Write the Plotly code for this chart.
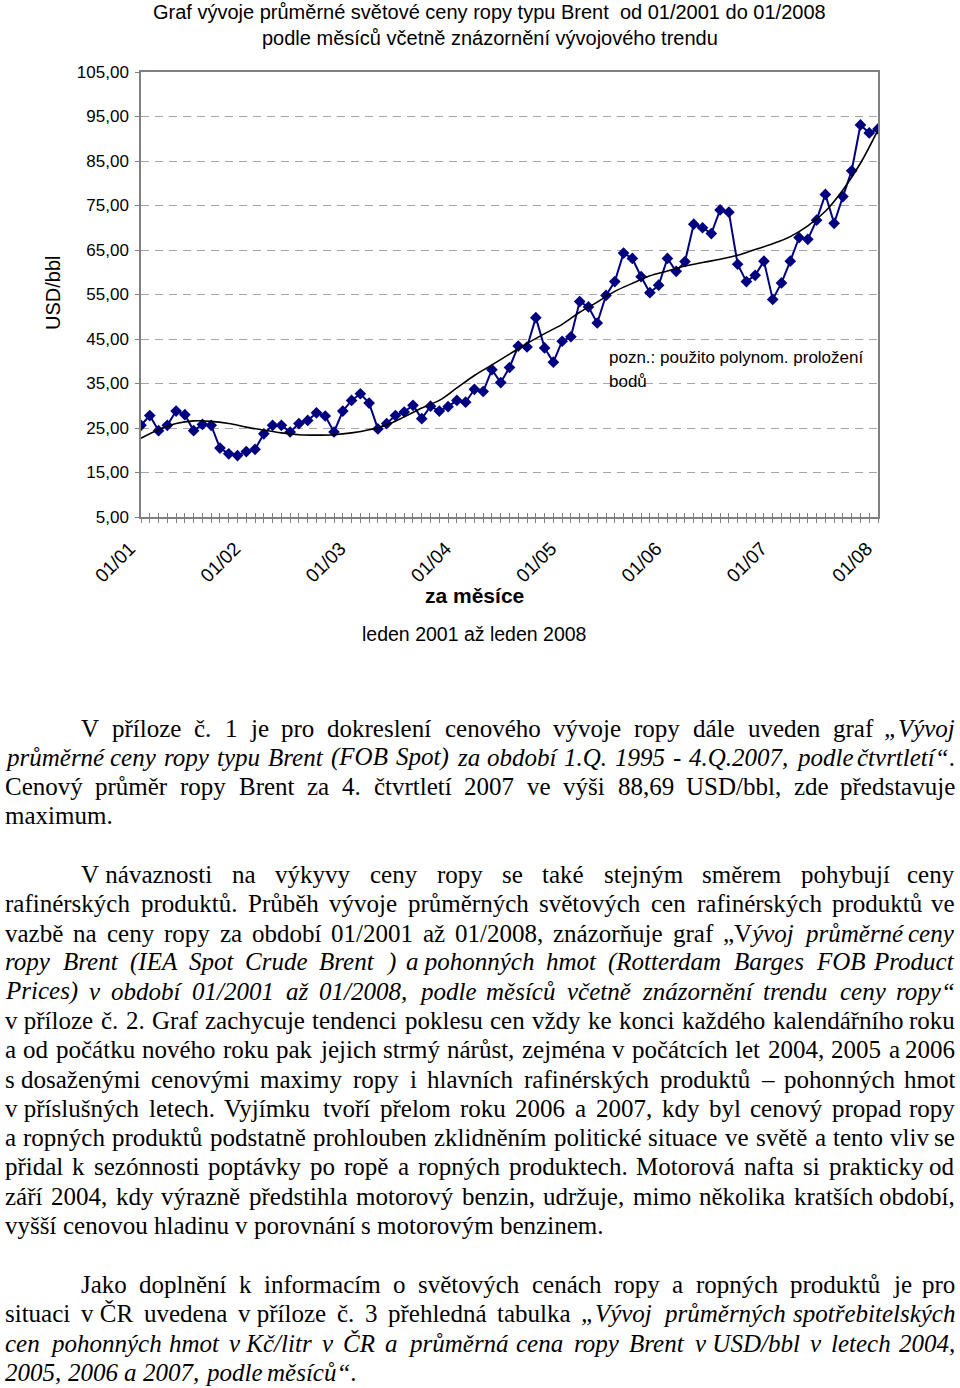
import unicodedata
import plotly.graph_objects as go

# ---------------- data ----------------
months = list(range(85))  # 01/2001 .. 01/2008
brent = [25.6, 27.8, 24.4, 25.6, 28.8, 28.0, 24.4, 25.8, 25.6, 20.5, 19.2, 18.8,
         19.7, 20.2, 23.7, 25.6, 25.6, 24.1, 26.0, 26.7, 28.4, 27.7, 24.1, 28.8,
         31.2, 32.7, 30.6, 24.8, 26.0, 27.8, 28.6, 30.1, 27.1, 29.9, 28.8, 29.8,
         31.2, 30.8, 33.7, 33.2, 38.1, 35.2, 38.6, 43.4, 43.2, 49.8, 43.0, 39.8,
         44.5, 45.5, 53.4, 52.2, 48.6, 54.8, 57.9, 64.3, 63.1, 59.0, 55.4, 57.1,
         63.1, 60.2, 62.4, 70.8, 70.0, 68.7, 74.0, 73.5, 61.8, 57.9, 59.3, 62.5,
         53.9, 57.6, 62.5, 67.8, 67.4, 71.7, 77.5, 71.0, 77.0, 82.8, 93.1, 91.3, 92.2]

trend_months = [0, 2, 4, 6, 8, 10, 12, 14, 16, 18, 20, 22, 24, 26, 28, 30, 32, 34,
                36, 38, 40, 42, 44, 46, 48, 50, 52, 54, 56, 58, 60, 62, 64, 66,
                68, 70, 72, 74, 76, 78, 80, 82, 84]
trend_vals = [22.7, 24.6, 26.0, 26.6, 26.5, 26.0, 25.2, 24.5, 23.9, 23.5, 23.4, 23.5,
              23.9, 24.6, 25.7, 27.5, 29.5, 31.2, 34.0, 36.8, 39.2, 41.6, 44.0, 46.2,
              48.3, 51.0, 53.3, 55.7, 57.5, 59.2, 60.3, 61.4, 62.2, 62.9, 63.8, 65.1,
              66.4, 68.0, 70.4, 73.7, 78.5, 84.5, 92.0]

x_tickvals = [0, 12, 24, 36, 48, 60, 72, 84]
x_ticktext = ["01/01", "01/02", "01/03", "01/04", "01/05", "01/06", "01/07", "01/08"]
y_tickvals = [5, 15, 25, 35, 45, 55, 65, 75, 85, 95, 105]
y_ticktext = ["5,00", "15,00", "25,00", "35,00", "45,00", "55,00", "65,00",
              "75,00", "85,00", "95,00", "105,00"]

title_lines = ["Graf vývoje průměrné světové ceny ropy typu Brent  od 01/2001 do 01/2008",
               "podle měsíců včetně znázornění vývojového trendu"]
y_title = "USD/bbl"
x_title = "za měsíce"
x_subtitle = "leden 2001 až leden 2008"
note_lines = ["pozn.: použito polynom. proložení", "bodů"]

NB = "\u00a0"
para_lines = [
    "V příloze č. 1 je pro dokreslení cenového vývoje ropy dále uveden graf <i>„Vývoj</i>",
    "<i>průměrné ceny ropy typu Brent (FOB Spot) za období 1.Q. 1995 - 4.Q.2007, podle čtvrtletí“</i>.",
    "Cenový průměr ropy Brent za 4. čtvrtletí 2007 ve výši 88,69 USD/bbl, zde představuje",
    "maximum.",
    "V" + NB + "návaznosti na výkyvy ceny ropy se také stejným směrem pohybují ceny",
    "rafinérských produktů. Průběh vývoje průměrných světových cen rafinérských produktů ve",
    "vazbě na ceny ropy za období 01/2001 až 01/2008, znázorňuje graf „V<i>ývoj průměrné ceny</i>",
    "<i>ropy Brent (IEA Spot Crude Brent ) a" + NB + "pohonných hmot (Rotterdam Barges FOB Product</i>",
    "<i>Prices) v období 01/2001 až 01/2008, podle měsíců včetně znázornění trendu ceny ropy“</i>",
    "v" + NB + "příloze č. 2. Graf zachycuje tendenci poklesu cen vždy ke konci každého kalendářního roku",
    "a od počátku nového roku pak jejich strmý nárůst, zejména v počátcích let 2004, 2005 a 2006",
    "s" + NB + "dosaženými cenovými maximy ropy i hlavních rafinérských produktů – pohonných hmot",
    "v" + NB + "příslušných letech. Vyjímku tvoří přelom roku 2006 a 2007, kdy byl cenový propad ropy",
    "a ropných produktů podstatně prohlouben zklidněním politické situace ve světě a tento vliv se",
    "přidal k sezónnosti poptávky po ropě a ropných produktech. Motorová nafta si prakticky od",
    "září 2004, kdy výrazně předstihla motorový benzin, udržuje, mimo několika kratších období,",
    "vyšší cenovou hladinu v porovnání s motorovým benzinem.",
    "Jako doplnění k informacím o světových cenách ropy a ropných produktů je pro",
    "situaci v" + NB + "ČR uvedena v" + NB + "příloze č. 3 přehledná tabulka <i>„Vývoj průměrných spotřebitelských</i>",
    "<i>cen pohonných hmot v" + NB + "Kč/litr v ČR a průměrná cena ropy Brent v" + NB + "USD/bbl v letech 2004,</i>",
    "<i>2005, 2006 a 2007, podle měsíců“</i>.",
]
para_y = [728, 757, 786, 815, 874, 903, 933, 962, 991, 1020, 1049, 1079, 1108,
          1137, 1166, 1196, 1225, 1284, 1313, 1343, 1372]
para_left = [80, 4, 4, 4, 80, 4, 4, 4, 4, 4, 4, 4, 4, 4, 4, 4, 4, 80, 4, 4, 4]
para_justify = [1, 1, 1, 0, 1, 1, 1, 1, 1, 1, 1, 1, 1, 1, 1, 1, 0, 1, 1, 1, 0]

# ---------------- figure ----------------
W, H = 960, 1388
PX0, PX1, PY0, PY1 = 141, 878, 72, 517


def px(x):
    return x / W


def py(y):
    return 1 - y / H


fig = go.Figure()
fig.add_trace(go.Scatter(
    x=months, y=brent, mode="lines+markers",
    line=dict(color="#000080", width=2),
    marker=dict(symbol="diamond", size=9, color="#000080"),
    showlegend=False, hoverinfo="skip"))
fig.add_trace(go.Scatter(
    x=trend_months, y=trend_vals, mode="lines",
    line=dict(color="black", width=1.6, shape="spline", smoothing=1.0),
    showlegend=False, hoverinfo="skip"))
# helper trace for the outer half of the crossing tick marks
fig.add_trace(go.Scatter(x=months, y=brent, mode="none", xaxis="x2",
                         showlegend=False, hoverinfo="skip"))

AXC = "#808080"
SANS = "Liberation Sans, Arial, sans-serif"
SERIF = "Liberation Serif, Times New Roman, serif"
PAD = "\u00a0\u00a0\u00a0"

fig.update_layout(
    width=W, height=H,
    margin=dict(l=0, r=0, t=0, b=0, pad=0, autoexpand=False),
    paper_bgcolor="white", plot_bgcolor="white",
    xaxis=dict(domain=[px(PX0), px(PX1)], range=[0, 84], automargin=False,
               tickmode="array", tickvals=x_tickvals,
               ticktext=[t + PAD for t in x_ticktext],
               tickangle=-45, ticks="inside", ticklen=4, tickcolor=AXC,
               minor=dict(dtick=1, tick0=0, ticks="inside", ticklen=4, tickcolor=AXC),
               showline=True, linecolor=AXC, linewidth=1.5, mirror=True,
               showgrid=False, zeroline=False, ticklabelstandoff=0,
               tickfont=dict(family=SANS, size=19, color="black")),
    xaxis2=dict(overlaying="x", matches="x", anchor="y", range=[0, 84], automargin=False,
                tickmode="array", tickvals=x_tickvals, showticklabels=False,
                ticks="outside", ticklen=5, tickcolor=AXC,
                minor=dict(dtick=1, tick0=0, ticks="outside", ticklen=5, tickcolor=AXC),
                showline=False, showgrid=False, zeroline=False, side="bottom"),
    yaxis=dict(domain=[py(PY1), py(PY0)], range=[5, 105], automargin=False,
               tickmode="array", tickvals=y_tickvals, ticktext=y_ticktext,
               ticks="outside", ticklen=4, tickcolor=AXC,
               showline=True, linecolor=AXC, linewidth=1.5, mirror=True,
               showgrid=True, gridcolor="#a6a6a6", griddash="8px,6px", gridwidth=1,
               zeroline=False, ticklabelstandoff=3,
               tickfont=dict(family=SANS, size=17, color="black")),
)

ann = []
ann.append(dict(x=px(490), y=py(12), text=title_lines[0], showarrow=False,
                xref="paper", yref="paper", xanchor="center", yanchor="middle",
                font=dict(family=SANS, size=20, color="black")))
ann.append(dict(x=px(490), y=py(38), text=title_lines[1], showarrow=False,
                xref="paper", yref="paper", xanchor="center", yanchor="middle",
                font=dict(family=SANS, size=20, color="black")))
ann.append(dict(x=px(53), y=py(293), text=y_title, showarrow=False, textangle=-90,
                xref="paper", yref="paper", xanchor="center", yanchor="middle",
                font=dict(family=SANS, size=20, color="black")))
ann.append(dict(x=px(474), y=py(595), text="<b>" + x_title + "</b>", showarrow=False,
                xref="paper", yref="paper", xanchor="center", yanchor="middle",
                font=dict(family=SANS, size=21, color="black")))
ann.append(dict(x=px(474), y=py(634), text=x_subtitle, showarrow=False,
                xref="paper", yref="paper", xanchor="center", yanchor="middle",
                font=dict(family=SANS, size=19.5, color="black")))
ann.append(dict(x=px(607), y=py(357), text=note_lines[0], showarrow=False,
                xref="paper", yref="paper", xanchor="left", yanchor="middle",
                font=dict(family=SANS, size=17, color="black")))
ann.append(dict(x=px(607), y=py(381), text=note_lines[1], showarrow=False,
                xref="paper", yref="paper", xanchor="left", yanchor="middle",
                font=dict(family=SANS, size=17, color="black")))

# ---------------- justified paragraph text ----------------
ROMAN = dict(zip("abcdefghijklmnopqrstuvwxyz",
                 [444, 500, 444, 500, 444, 333, 500, 500, 278, 278, 500, 278, 778,
                  500, 500, 500, 500, 333, 389, 278, 500, 500, 722, 500, 500, 444]))
ROMAN.update(zip("ABCDEFGHIJKLMNOPQRSTUVWXYZ",
                 [722, 667, 667, 722, 611, 556, 722, 722, 333, 389, 722, 611, 889,
                  722, 722, 556, 722, 667, 556, 611, 722, 722, 944, 722, 722, 611]))
ITAL = dict(zip("abcdefghijklmnopqrstuvwxyz",
                [500, 500, 444, 500, 444, 278, 500, 500, 278, 278, 444, 278, 722,
                 500, 500, 500, 500, 389, 389, 278, 500, 444, 667, 444, 444, 389]))
ITAL.update(zip("ABCDEFGHIJKLMNOPQRSTUVWXYZ",
                [611, 611, 667, 722, 611, 611, 722, 722, 333, 444, 667, 556, 833,
                 667, 722, 611, 722, 611, 500, 556, 722, 611, 833, 611, 556, 556]))
PUNCT_R = {".": 250, ",": 250, ":": 278, "-": 333, "/": 278, "(": 333, ")": 333,
           "„": 444, "“": 444, "–": 500, NB: 250}
PUNCT_I = {".": 250, ",": 250, ":": 333, "-": 333, "/": 278, "(": 333, ")": 333,
           "„": 556, "“": 556, "–": 500, NB: 250}


def char_w(ch, it):
    if ch.isdigit():
        return 500
    p = PUNCT_I if it else PUNCT_R
    if ch in p:
        return p[ch]
    base = unicodedata.normalize("NFD", ch)[0]
    t = ITAL if it else ROMAN
    return t.get(base, 500)


def parse_words(s):
    words, cur, it, i = [], [], False, 0
    while i < len(s):
        if s.startswith("<i>", i):
            it = True
            i += 3
            continue
        if s.startswith("</i>", i):
            it = False
            i += 4
            continue
        ch = s[i]
        if ch == " ":
            if cur:
                words.append(cur)
                cur = []
        else:
            cur.append((ch, it))
        i += 1
    if cur:
        words.append(cur)
    return words


def markup(word):
    out, cur_it = "", False
    for ch, it in word:
        if it and not cur_it:
            out += "<i>"
        if not it and cur_it:
            out += "</i>"
        cur_it = it
        out += ch
    if cur_it:
        out += "</i>"
    return out


RIGHT = 956
parsed = [parse_words(s) for s in para_lines]
units = [[sum(char_w(c, it) for c, it in w) for w in ws] for ws in parsed]

fs = 25.0
for ws, us, left, j in zip(parsed, units, para_left, para_justify):
    if j and len(ws) > 1:
        fit = (RIGHT - left - (len(ws) - 1) * 3.0) / (sum(us) / 1000.0)
        fs = min(fs, fit)

for ws, us, y, left, j in zip(parsed, units, para_y, para_left, para_justify):
    widths = [u * fs / 1000.0 for u in us]
    n = len(ws)
    if j and n > 1:
        gap = (RIGHT - left - sum(widths)) / (n - 1)
    else:
        gap = 250 * fs / 1000.0
    xpos = left
    for k, (w, wd) in enumerate(zip(ws, widths)):
        if j and n > 1 and k == n - 1:
            ann.append(dict(x=px(RIGHT), y=py(y), text=markup(w), showarrow=False,
                            xref="paper", yref="paper", xanchor="right", yanchor="middle",
                            borderpad=0,
                            font=dict(family=SERIF, size=fs, color="black")))
        else:
            ann.append(dict(x=px(xpos), y=py(y), text=markup(w), showarrow=False,
                            xref="paper", yref="paper", xanchor="left", yanchor="middle",
                            borderpad=0,
                            font=dict(family=SERIF, size=fs, color="black")))
        xpos += wd + gap

fig.update_layout(annotations=ann)
# remove the default 8px page margin so the 960x1388 figure fills the window exactly
fig.write_html("out.html",
               config={"displayModeBar": False},
               post_script="document.body.style.margin='0';document.body.style.overflow='hidden';")
